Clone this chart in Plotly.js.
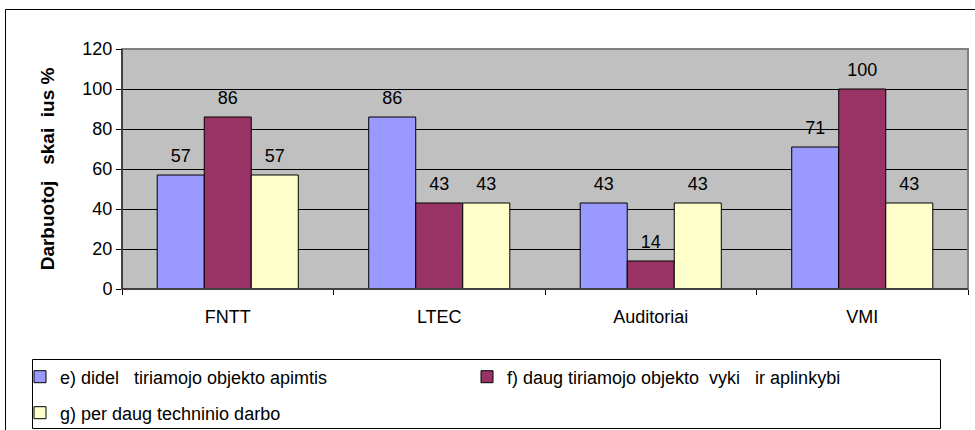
<!DOCTYPE html>
<html>
<head>
<meta charset="utf-8">
<script src="https://cdn.plot.ly/plotly-3.0.1.min.js"></script>
<style>html,body{margin:0;padding:0;background:#fff;}#chart{width:975px;height:430px;}</style>
</head>
<body>
<div id="chart"></div>
<script>
const categories = ["FNTT", "LTEC", "Auditoriai", "VMI"];
const seriesNames = [
  "e) didel\u00a0\u00a0\u00a0tiriamojo objekto apimtis",
  "f) daug tiriamojo objekto \u00a0vyki\u00a0\u00a0\u00a0ir aplinkybi",
  "g) per daug techninio darbo"
];
const valuesE = [57, 86, 43, 71];
const valuesF = [86, 43, 14, 100];
const valuesG = [57, 43, 43, 43];
const yTicks = [0, 20, 40, 60, 80, 100, 120];
const yTitle = "\u00a0\u00a0\u00a0\u00a0\u00a0Darbuotoj\u00a0\u00a0\u00a0skai\u00a0\u00a0ius %";

const colors = ["#9999FF", "#993366", "#FFFFCC"];
const allValues = [valuesE, valuesF, valuesG];
const legendIds = ["legend", "legend", "legend2"];
const FONT = "Liberation Sans, Arial, sans-serif";
const FS = 18;

const traces = [];
allValues.forEach((vals, i) => {
  traces.push({
    type: "bar", x: categories, y: vals, name: seriesNames[i],
    offsetgroup: String(i), alignmentgroup: "a", legend: legendIds[i],
    marker: {color: colors[i], line: {color: "#000", width: 1}},
    hoverinfo: "skip"
  });
});
allValues.forEach((vals, i) => {
  traces.push({
    type: "scatter", mode: "markers+text", x: categories, y: vals,
    text: vals.map(String), textposition: "top center",
    textfont: {family: FONT, size: FS, color: "#000"},
    marker: {size: 12, opacity: 0},
    offsetgroup: String(i), alignmentgroup: "a",
    showlegend: false, hoverinfo: "skip", cliponaxis: false
  });
});

const L = 122, R = 968, T = 49, B = 289;
const W = R - L, H = B - T;
const px = v => (v - L) / W;
const py = v => (B - v) / H;

const legendBase = {
  orientation: "h", xanchor: "left", yanchor: "middle",
  font: {family: FONT, size: FS, color: "#000"},
  entrywidth: 402, tracegroupgap: 0, itemwidth: 30,
  bgcolor: "rgba(0,0,0,0)", borderwidth: 0, traceorder: "normal"
};

const layout = {
  width: 975, height: 430,
  margin: {l: L, r: 975 - R, t: T, b: 430 - B, pad: 0, autoexpand: false},
  paper_bgcolor: "#fff", plot_bgcolor: "#C0C0C0",
  barmode: "group", bargap: 0.333, bargroupgap: 0,
  scattermode: "group", scattergap: 0.333,
  font: {family: FONT, size: FS, color: "#000"},
  showlegend: true,
  legend: Object.assign({}, legendBase, {x: px(20), y: py(377)}),
  legend2: Object.assign({}, legendBase, {x: px(20), y: py(413)}),
  xaxis: {
    type: "category", showgrid: false, zeroline: false, automargin: false,
    showline: true, linecolor: "#000", linewidth: 1,
    ticks: "outside", ticklen: 5, tickcolor: "#000", tickson: "boundaries",
    ticklabelstandoff: 11,
    tickfont: {family: FONT, size: FS}, fixedrange: true
  },
  yaxis: {
    range: [0, 120], tickvals: yTicks, ticktext: yTicks.map(String),
    showgrid: true, gridcolor: "#000", gridwidth: 1, zeroline: false, automargin: false,
    showline: true, linecolor: "#000", linewidth: 1,
    ticks: "outside", ticklen: 5, tickcolor: "#000",
    tickfont: {family: FONT, size: FS},
    title: {text: yTitle, font: {family: FONT, size: 19, weight: "bold"}, standoff: 22},
    fixedrange: true
  },
  shapes: [
    {type: "rect", xref: "paper", yref: "paper", x0: 0, x1: 1, y0: 0, y1: 1,
     line: {color: "#808080", width: 2}, layer: "above"},
    {type: "line", xref: "paper", yref: "paper", x0: 0, x1: 0, y0: 0, y1: 1,
     line: {color: "#000", width: 1}, layer: "above"},
    {type: "line", xref: "paper", yref: "paper", x0: 0, x1: 1, y0: 0, y1: 0,
     line: {color: "#000", width: 1}, layer: "above"},
    {type: "rect", xref: "paper", yref: "paper", x0: px(5.5), x1: px(980), y0: py(440), y1: py(9.5),
     line: {color: "#000", width: 1}, layer: "above"},
    {type: "rect", xref: "paper", yref: "paper", x0: px(32.5), x1: px(940.5), y0: py(428.5), y1: py(359.5),
     line: {color: "#000", width: 1}, layer: "above"}
  ]
};

Plotly.newPlot("chart", traces, layout, {displayModeBar: false, staticPlot: true});
</script>
</body>
</html>
